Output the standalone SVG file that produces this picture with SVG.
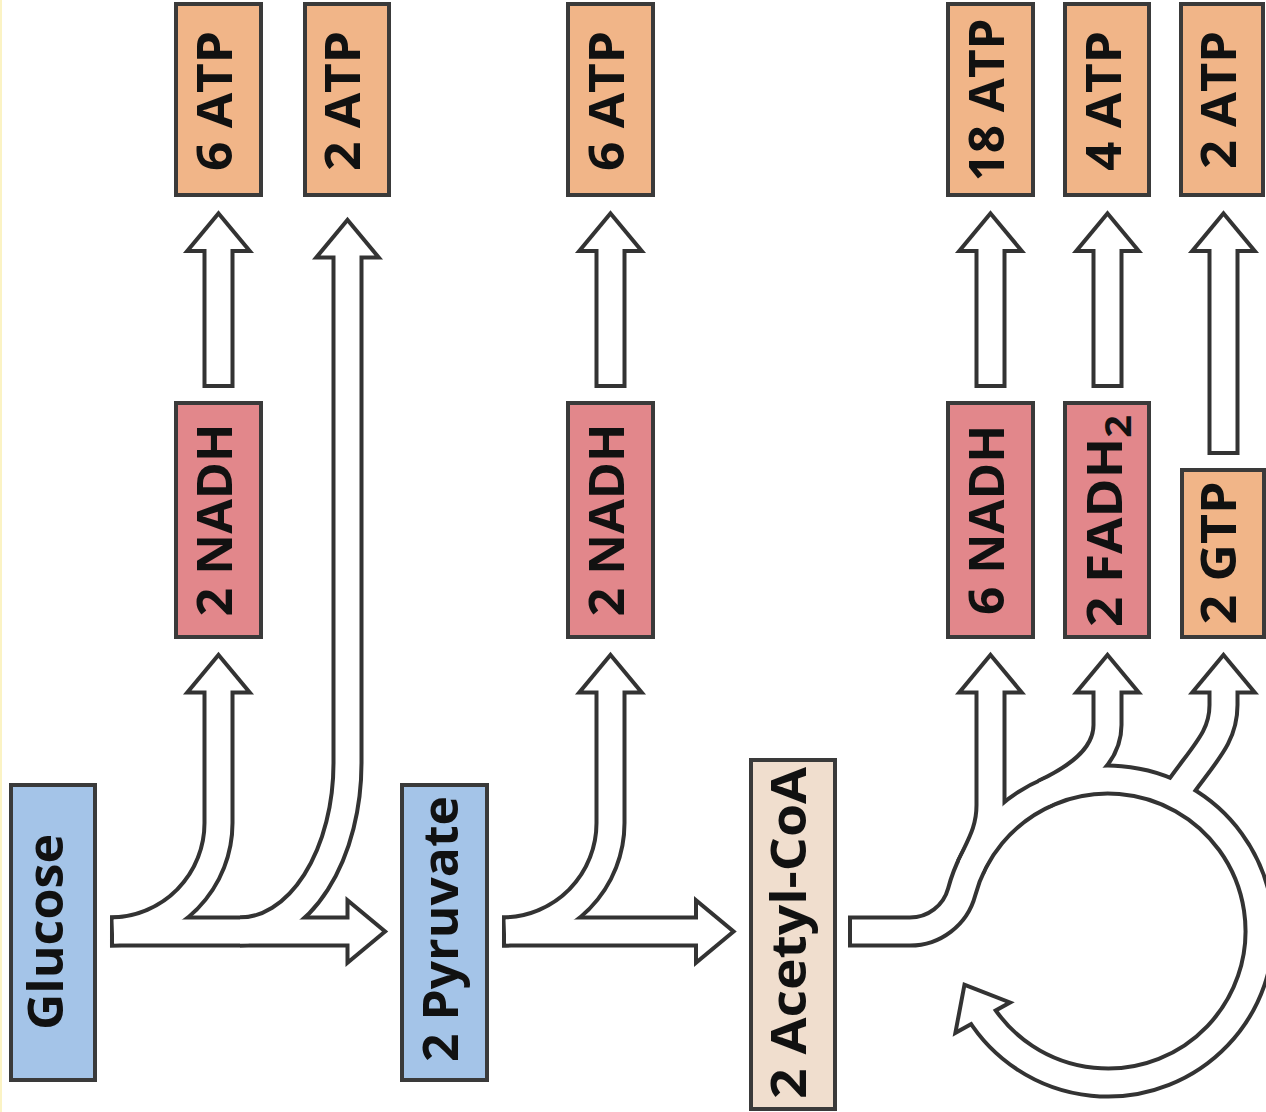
<svg xmlns="http://www.w3.org/2000/svg" xmlns:xlink="http://www.w3.org/1999/xlink" width="1266" height="1112" viewBox="0 0 1266 1112">
  <style>
    .box { stroke: #3a3a3a; stroke-width: 4; }
    .atp { fill: #f1b588; }
    .red { fill: #e2878b; }
    .blue { fill: #a4c4e8; }
    .coa { fill: #f0dece; }
    .lbl { font-family: "Open Sans", "Liberation Sans", sans-serif; font-weight: 700; font-size: 48px; fill: #111; text-anchor: middle; }
    .edge { fill: none; stroke: #333; stroke-width: 32; stroke-linecap: butt; stroke-linejoin: round; }
    .core { fill: none; stroke: #fff; stroke-width: 24; stroke-linecap: butt; stroke-linejoin: round; }
    .head-edge { fill: #333; stroke: #333; stroke-width: 8; stroke-linejoin: miter; stroke-miterlimit: 10; }
    .head-core { fill: #fff; stroke: none; }
  </style>
  <defs>
    <!-- open-arrow head core, tip at origin, pointing up -->
    <path id="head" d="M0,0 L27,32.5 L-27,32.5 Z"/>
  </defs>

  <rect x="0" y="0" width="1266" height="1112" fill="#fff"/>
  <rect x="0" y="0" width="2" height="1112" fill="#fbf3c4"/>

  <!-- hollow arrows: dark outline pass, then white core pass -->
  <g id="connectors">
    <g class="edge">
      <path d="M110,931.5 H365"/>
      <path d="M110,931.5 A108.5,108.5 0 0 0 218.5,823 V680"/>
      <path d="M240,931.5 A107.5,168.5 0 0 0 347.5,763 V245"/>
      <path d="M218.5,388 V238.5"/>
      <path d="M502,931.5 H715"/>
      <path d="M502,931.5 A108.5,108.5 0 0 0 610.5,823 V680"/>
      <path d="M610.5,388 V238.5"/>
      <path d="M848,931.5 H909.9 A53.6,53.6 0 0 0 961.7,891.8 A151.5,151.5 0 1 1 979.5,1011.3"/>
      <path d="M970.7,866.9 C981.3,844.3 990.5,830 990.5,805 V680"/>
      <path d="M1044,793.7 C1071.2,781 1107.5,760 1107.5,725 V680"/>
      <path d="M1170.8,801.1 C1201.5,755.4 1223.5,740 1223.5,705 V680"/>
      <path d="M990.5,388 V238.5"/>
      <path d="M1107.5,388 V238.5"/>
      <path d="M1223.5,455 V238.5"/>
    </g>
    <g>
      <use xlink:href="#head" class="head-edge" transform="translate(382,931.5) rotate(90)"/>
      <use xlink:href="#head" class="head-edge" transform="translate(218.5,658)"/>
      <use xlink:href="#head" class="head-edge" transform="translate(347.5,223)"/>
      <use xlink:href="#head" class="head-edge" transform="translate(218.5,216.5)"/>
      <use xlink:href="#head" class="head-edge" transform="translate(730.5,931.5) rotate(90)"/>
      <use xlink:href="#head" class="head-edge" transform="translate(610.5,658)"/>
      <use xlink:href="#head" class="head-edge" transform="translate(610.5,216.5)"/>
      <use xlink:href="#head" class="head-edge" transform="translate(966,987.5) rotate(-29)"/>
      <use xlink:href="#head" class="head-edge" transform="translate(990.5,658)"/>
      <use xlink:href="#head" class="head-edge" transform="translate(1107.5,658)"/>
      <use xlink:href="#head" class="head-edge" transform="translate(1223.5,658)"/>
      <use xlink:href="#head" class="head-edge" transform="translate(990.5,216.5)"/>
      <use xlink:href="#head" class="head-edge" transform="translate(1107.5,216.5)"/>
      <use xlink:href="#head" class="head-edge" transform="translate(1223.5,216.5)"/>
    </g>
    <g class="core">
      <path d="M114,931.5 H365"/>
      <path d="M113.9,931.4 A108.5,108.5 0 0 0 218.5,823 V680"/>
      <path d="M240,931.5 A107.5,168.5 0 0 0 347.5,763 V245"/>
      <path d="M218.5,384 V238.5"/>
      <path d="M506,931.5 H715"/>
      <path d="M505.9,931.4 A108.5,108.5 0 0 0 610.5,823 V680"/>
      <path d="M610.5,384 V238.5"/>
      <path d="M852,931.5 H909.9 A53.6,53.6 0 0 0 961.7,891.8 A151.5,151.5 0 1 1 979.5,1011.3"/>
      <path d="M970.7,866.9 C981.3,844.3 990.5,830 990.5,805 V680"/>
      <path d="M1044,793.7 C1071.2,781 1107.5,760 1107.5,725 V680"/>
      <path d="M1170.8,801.1 C1201.5,755.4 1223.5,740 1223.5,705 V680"/>
      <path d="M990.5,384 V238.5"/>
      <path d="M1107.5,384 V238.5"/>
      <path d="M1223.5,451 V238.5"/>
    </g>
    <g>
      <use xlink:href="#head" class="head-core" transform="translate(382,931.5) rotate(90)"/>
      <use xlink:href="#head" class="head-core" transform="translate(218.5,658)"/>
      <use xlink:href="#head" class="head-core" transform="translate(347.5,223)"/>
      <use xlink:href="#head" class="head-core" transform="translate(218.5,216.5)"/>
      <use xlink:href="#head" class="head-core" transform="translate(730.5,931.5) rotate(90)"/>
      <use xlink:href="#head" class="head-core" transform="translate(610.5,658)"/>
      <use xlink:href="#head" class="head-core" transform="translate(610.5,216.5)"/>
      <use xlink:href="#head" class="head-core" transform="translate(966,987.5) rotate(-29)"/>
      <use xlink:href="#head" class="head-core" transform="translate(990.5,658)"/>
      <use xlink:href="#head" class="head-core" transform="translate(1107.5,658)"/>
      <use xlink:href="#head" class="head-core" transform="translate(1223.5,658)"/>
      <use xlink:href="#head" class="head-core" transform="translate(990.5,216.5)"/>
      <use xlink:href="#head" class="head-core" transform="translate(1107.5,216.5)"/>
      <use xlink:href="#head" class="head-core" transform="translate(1223.5,216.5)"/>
    </g>
  </g>

  <!-- substrates -->
  <g id="glucose">
    <rect class="box blue" x="11" y="785" width="84" height="295"/>
    <text class="lbl" transform="translate(63,932) rotate(-90)" textLength="196" lengthAdjust="spacingAndGlyphs">Glucose</text>
  </g>
  <g id="pyruvate">
    <rect class="box blue" x="402" y="785" width="85" height="295"/>
    <text class="lbl" transform="translate(458,929) rotate(-90)" textLength="266" lengthAdjust="spacingAndGlyphs">2 Pyruvate</text>
  </g>
  <g id="acetyl-coa">
    <rect class="box coa" x="751" y="760" width="84" height="349"/>
    <text class="lbl" transform="translate(806,933) rotate(-90)" textLength="332" lengthAdjust="spacingAndGlyphs">2 Acetyl-CoA</text>
  </g>

  <!-- glycolysis yields -->
  <g id="nadh-glycolysis">
    <rect class="box red" x="176" y="403" width="85" height="234"/>
    <text class="lbl" transform="translate(232,520) rotate(-90)" textLength="193" lengthAdjust="spacingAndGlyphs">2 NADH</text>
  </g>
  <g id="atp-glycolysis-nadh">
    <rect class="box atp" x="176" y="4" width="85" height="191"/>
    <text class="lbl" transform="translate(232,101) rotate(-90)" textLength="140" lengthAdjust="spacingAndGlyphs">6 ATP</text>
  </g>
  <g id="atp-glycolysis">
    <rect class="box atp" x="305" y="4" width="84" height="191"/>
    <text class="lbl" transform="translate(360,101) rotate(-90)" textLength="140" lengthAdjust="spacingAndGlyphs">2 ATP</text>
  </g>

  <!-- pyruvate oxidation yields -->
  <g id="nadh-pdh">
    <rect class="box red" x="568" y="403" width="85" height="234"/>
    <text class="lbl" transform="translate(624,520) rotate(-90)" textLength="193" lengthAdjust="spacingAndGlyphs">2 NADH</text>
  </g>
  <g id="atp-pdh">
    <rect class="box atp" x="568" y="4" width="85" height="191"/>
    <text class="lbl" transform="translate(624,101) rotate(-90)" textLength="140" lengthAdjust="spacingAndGlyphs">6 ATP</text>
  </g>

  <!-- citric acid cycle yields -->
  <g id="nadh-cycle">
    <rect class="box red" x="948" y="403" width="85" height="234"/>
    <text class="lbl" transform="translate(1004,520) rotate(-90)" textLength="190" lengthAdjust="spacingAndGlyphs">6 NADH</text>
  </g>
  <g id="fadh2-cycle">
    <rect class="box red" x="1065" y="403" width="84" height="234"/>
    <text class="lbl" transform="translate(1122,521) rotate(-90)" textLength="212" lengthAdjust="spacingAndGlyphs">2 FADH<tspan font-size="36" dy="9">2</tspan></text>
  </g>
  <g id="gtp-cycle">
    <rect class="box atp" x="1182" y="470" width="82" height="167"/>
    <text class="lbl" transform="translate(1236,553) rotate(-90)" textLength="143" lengthAdjust="spacingAndGlyphs">2 GTP</text>
  </g>
  <g id="atp-cycle-nadh">
    <rect class="box atp" x="948" y="4" width="85" height="191"/>
    <text class="lbl" transform="translate(1004,100) rotate(-90)" textLength="163" lengthAdjust="spacingAndGlyphs">18 ATP</text>
  </g>
  <g id="atp-cycle-fadh2">
    <rect class="box atp" x="1065" y="4" width="84" height="191"/>
    <text class="lbl" transform="translate(1121,101) rotate(-90)" textLength="140" lengthAdjust="spacingAndGlyphs">4 ATP</text>
  </g>
  <g id="atp-cycle-gtp">
    <rect class="box atp" x="1181" y="4" width="82" height="191"/>
    <text class="lbl" transform="translate(1236,100) rotate(-90)" textLength="138" lengthAdjust="spacingAndGlyphs">2 ATP</text>
  </g>
</svg>
